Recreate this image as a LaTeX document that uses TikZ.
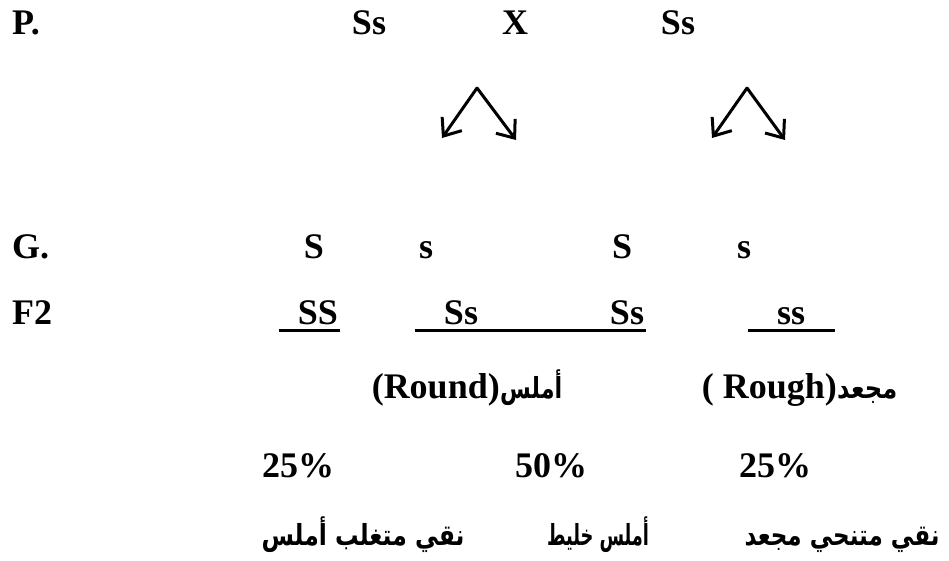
\documentclass[tikz,border=0pt]{standalone}
\usepackage{fontspec}
\setmainfont{Liberation Serif}
\newfontfamily\arabicfont[Script=Arabic]{DejaVu Sans}
\TeXXeTstate=1
\usetikzlibrary{arrows.meta}
\begin{document}
\begin{tikzpicture}[x=1pt,y=-1pt,
  lbl/.style={inner sep=0pt, anchor=base, font=\fontsize{36}{40}\selectfont\bfseries},
  arlbl/.style={inner sep=0pt, anchor=base, font=\fontsize{29}{34}\selectfont\arabicfont\bfseries},
  split/.style={line width=3pt, line cap=round, -{Straight Barb[length=15pt,width=24pt]}},
  uline/.style={line width=3pt}]
\useasboundingbox[fill=white] (0,0) rectangle (949,561);
% row P
\node[lbl, anchor=base west] (P) at (12,35) {P.};
\node[lbl] (p1) at (369,35) {Ss};
\node[lbl] (x) at (515,35) {X};
\node[lbl] (p2) at (678,35) {Ss};
% arrows
\coordinate (a1) at (477,88);
\coordinate (a1l) at (442,138);
\coordinate (a1r) at (516,140);
\coordinate (a2) at (747,88);
\coordinate (a2l) at (712,138);
\coordinate (a2r) at (785,140);
\draw[split] (a1) -- (a1l);
\draw[split] (a1) -- (a1r);
\draw[split] (a2) -- (a2l);
\draw[split] (a2) -- (a2r);
% row G
\node[lbl, anchor=base west] (G) at (12,258) {G.};
\node[lbl] (g1) at (314,258) {S};
\node[lbl] (g2) at (426,258) {s};
\node[lbl] (g3) at (622,258) {S};
\node[lbl] (g4) at (744,258) {s};
% row F2
\node[lbl, anchor=base west] (F) at (12,324) {F2};
\node[lbl] (f1) at (318,324) {SS};
\node[lbl] (f2) at (461,324) {Ss};
\node[lbl] (f3) at (627,324) {Ss};
\node[lbl] (f4) at (791,324) {ss};
\draw[uline] (279,330) -- (340,330);
\draw[uline] (415,330) -- (646,330);
\draw[uline] (748,330) -- (835,330);
% phenotype row
\node[lbl, anchor=base east] (round) at (500,398) {(Round)};
\node[arlbl, anchor=base west] (amls) at (500,398) {\resizebox{62pt}{\height}{\beginR أملس\endR}};
\node[lbl, anchor=base east] (rough) at (837,398) {( Rough)};
\node[arlbl, anchor=base west] (mjad) at (837,398) {\resizebox{60pt}{\height}{\beginR مجعد\endR}};
% ratios
\node[lbl] (r1) at (298,477) {25\%};
\node[lbl] (r2) at (551,477) {50\%};
\node[lbl] (r3) at (775,477) {25\%};
% descriptions
\node[arlbl] (d1) at (363,545) {\resizebox{203pt}{\height}{\beginR نقي متغلب أملس\endR}};
\node[arlbl] (d2) at (598,545) {\resizebox{102pt}{\height}{\beginR أملس خليط\endR}};
\node[arlbl] (d3) at (842,545) {\resizebox{195pt}{\height}{\beginR نقي متنحي مجعد\endR}};
\end{tikzpicture}
\end{document}
